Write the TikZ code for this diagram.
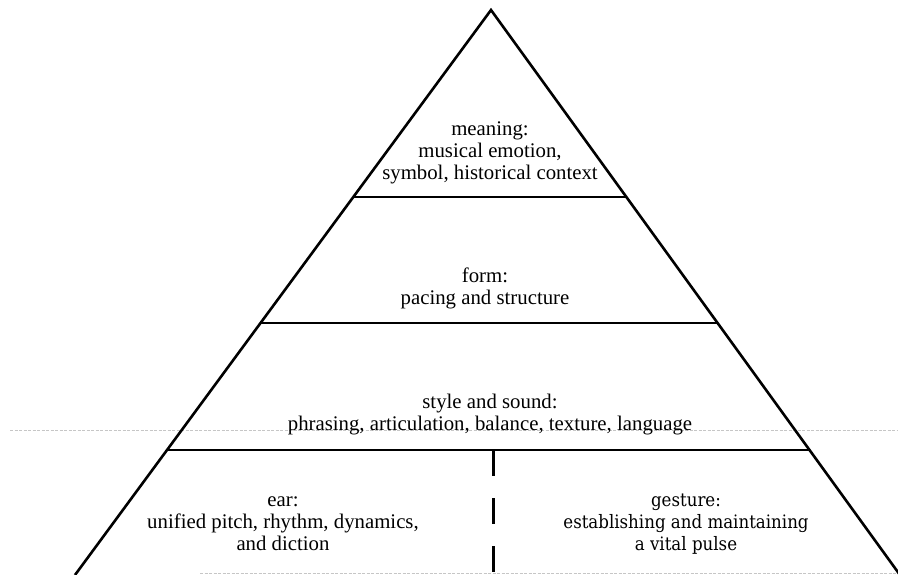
\documentclass[tikz,border=0pt]{standalone}
\usepackage{fontspec}
\setmainfont{Liberation Serif}
\newfontfamily\gestfont{DejaVu Serif Condensed}
\usetikzlibrary{calc}
\begin{document}
\begin{tikzpicture}[x=1pt,y=-1pt,
  edge/.style={line width=2.6pt, line join=miter},
  tier/.style={line width=2.8pt},
  divider/.style={line width=3pt, dash pattern=on 26pt off 22pt},
  artifact/.style={line width=0.8pt, gray!45, dash pattern=on 3pt off 1.5pt},
  label/.style={align=center, font=\fontsize{20.8}{22}\selectfont, inner sep=0pt},
  glabel/.style={align=center, font=\gestfont\fontsize{18.5}{22}\selectfont, inner sep=0pt}]
\useasboundingbox (0,0) rectangle (898,575);
\fill[white] (0,0) rectangle (898,575);
% scan artifacts
\draw[artifact] (10,430) -- (898,430);
\draw[artifact] (200,573.5) -- (898,573.5);
% pyramid
\coordinate (A) at (491,10);
\coordinate (L) at (75,575);
\coordinate (R) at (900,575);
\draw[edge] (L) -- (A) -- (R);
\coordinate (l1) at ($(A)!{(197-10)/565}!(L)$);
\coordinate (r1) at ($(A)!{(197-10)/565}!(R)$);
\coordinate (l2) at ($(A)!{(323-10)/565}!(L)$);
\coordinate (r2) at ($(A)!{(323-10)/565}!(R)$);
\coordinate (l3) at ($(A)!{(450-10)/565}!(L)$);
\coordinate (r3) at ($(A)!{(450-10)/565}!(R)$);
\draw[tier] (l1) -- (r1);
\draw[tier] (l2) -- (r2);
\draw[tier] (l3) -- (r3);
\coordinate (dtop) at (493,450);
\coordinate (dbot) at (493,575);
\draw[divider] (dtop) -- (dbot);
% labels
\node[label] (meaning) at (490,153) {meaning:\\musical emotion,\\symbol, historical context};
\node[label] (form) at (485,288) {form:\\pacing and structure};
\node[label] (style) at (490,415) {style and sound:\\phrasing, articulation, balance, texture, language};
\node[label] (ear) at (283,524) {ear:\\unified pitch, rhythm, dynamics,\\and diction};
\node[glabel] (gesture) at (686,524) {gesture:\\establishing and maintaining\\a vital pulse};
\end{tikzpicture}
\end{document}
